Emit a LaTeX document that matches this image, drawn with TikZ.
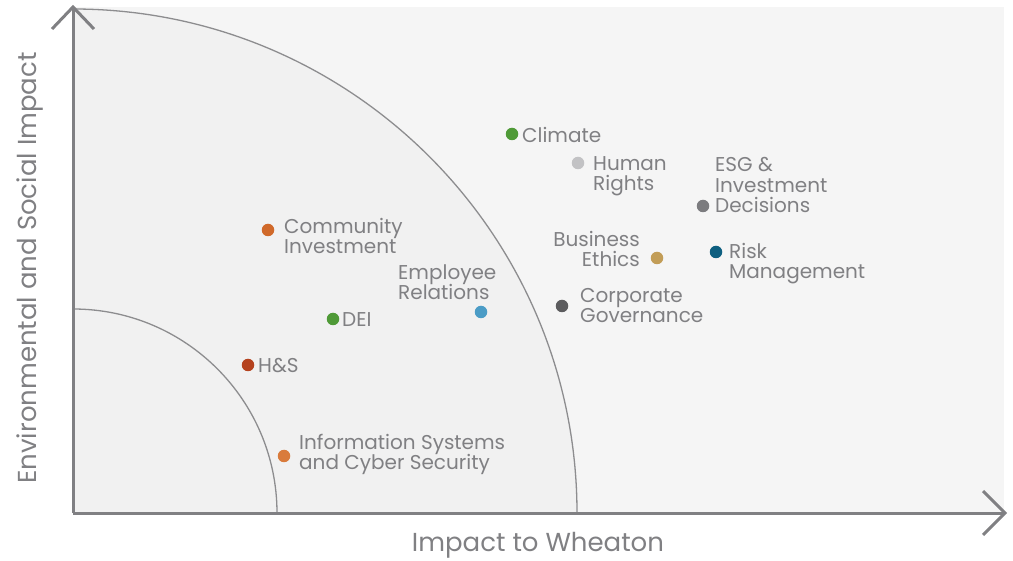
\documentclass[tikz,border=0pt]{standalone}
\usepackage{fontspec}
\setmainfont{Poppins}
\definecolor{axisc}{HTML}{808083}
\definecolor{txtc}{HTML}{808083}
\definecolor{bgout}{HTML}{F5F5F5}
\definecolor{bgin}{HTML}{F1F1F1}
\definecolor{cgreen}{HTML}{4F9A37}
\definecolor{clgray}{HTML}{C2C2C4}
\definecolor{cdgray}{HTML}{7C7C7F}
\definecolor{corange}{HTML}{D0692A}
\definecolor{ctan}{HTML}{C29D57}
\definecolor{cteal}{HTML}{0E5F80}
\definecolor{cblue}{HTML}{4B9CC6}
\definecolor{cdark}{HTML}{5C5C5E}
\definecolor{cred}{HTML}{B5421E}
\definecolor{corange2}{HTML}{D97B3C}
\begin{document}
\begin{tikzpicture}[x=1pt,y=-1pt,
  dot/.style={circle,fill=#1,inner sep=0pt,minimum size=12.5pt},
  lab/.style={text=txtc,font=\fontsize{20}{20.5}\selectfont,inner sep=0pt,align=left},
  axlab/.style={text=txtc,font=\fontsize{26}{30}\selectfont,inner sep=0pt},
  axis/.style={draw=axisc,line width=3pt},
  arc/.style={draw=axisc!90,line width=1.3pt}]
\useasboundingbox (0,0) rectangle (1013,561);
\fill[bgout] (73,7) rectangle (1004,513);
\fill[bgin] (73,513) -- (577,513) arc[start angle=0,end angle=-90,radius=504] -- cycle;
\draw[arc] (577,513) arc[start angle=0,end angle=-90,radius=504];
\draw[arc] (277,513) arc[start angle=0,end angle=-90,radius=204];
\coordinate (O) at (73,513);
\coordinate (ytip) at (73,7);
\coordinate (xtip) at (1005,513);
\draw[axis] (O) -- (ytip);
\draw[axis] (O) -- (xtip);
\draw[axis,line cap=butt,line join=miter] (52,29) -- (ytip) -- (94,29);
\draw[axis,line cap=butt,line join=miter] (983,491) -- (xtip) -- (983,535);
% dots
\node[dot=cgreen] (clim) at (512,134) {};
\node[dot=clgray] (hr) at (578,163) {};
\node[dot=cdgray] (esg) at (703,206) {};
\node[dot=corange] (ci) at (268,230) {};
\node[dot=ctan] (be) at (657,258) {};
\node[dot=cteal] (rm) at (716,252) {};
\node[dot=cblue] (er) at (481,312) {};
\node[dot=cdark] (cg) at (562,306) {};
\node[dot=cgreen] (dei) at (333,319) {};
\node[dot=cred] (hs) at (248,365) {};
\node[dot=corange2] (is) at (284,456) {};
% labels
\node[lab,anchor=west] (climl) at (522,135) {Climate};
\node[lab,anchor=north west] (hrl) at (593,156) {Human\\Rights};
\node[lab,anchor=south west] (esgl) at (715,213) {ESG \&\\Investment\\Decisions};
\node[lab,anchor=north west] (cil) at (284,218) {Community\\Investment};
\node[lab,anchor=north east,align=right] (bel) at (640,231) {Business\\Ethics};
\node[lab,anchor=north west] (rml) at (729,243) {Risk\\Management};
\node[lab,anchor=south west] (erl) at (398,300) {Employee\\Relations};
\node[lab,anchor=north west] (cgl) at (580,288) {Corporate\\Governance};
\node[lab,anchor=west] (deil) at (342,320) {DEI};
\node[lab,anchor=west] (hsl) at (258,366) {H\&S};
\node[lab,anchor=north west] (isl) at (299,434) {Information Systems\\and Cyber Security};
\node[axlab] (xl) at (538,545) {Impact to Wheaton};
\node[axlab,rotate=90] (yl) at (30,268) {Environmental and Social Impact};
\end{tikzpicture}
\end{document}
